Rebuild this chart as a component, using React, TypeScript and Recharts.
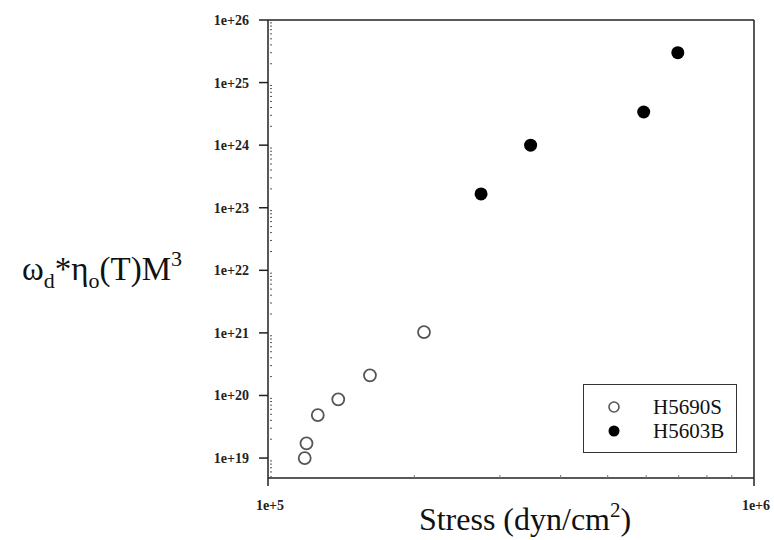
import { ScatterChart, Scatter, XAxis, YAxis, ReferenceLine, Legend } from 'recharts';

// values (stress in dyn/cm^2, y = omega_d * eta_o(T) * M^3)
const hollowStress = [1.19e5, 1.2e5, 1.266e5, 1.395e5, 1.621e5, 2.094e5];
const hollowValue = [1.0e19, 1.72e19, 4.86e19, 8.67e19, 2.1e20, 1.03e21];
const filledStress = [2.744e5, 3.47e5, 5.93e5, 6.97e5];
const filledValue = [1.66e23, 1.0e24, 3.39e24, 3.01e25];

const seriesNames = ['H5690S', 'H5603B'];

const yMajorTicks = [1e19, 1e20, 1e21, 1e22, 1e23, 1e24, 1e25, 1e26];
const yTickLabels = ['1e+19', '1e+20', '1e+21', '1e+22', '1e+23', '1e+24', '1e+25', '1e+26'];
const xMajorTicks = [1e5, 1e6];
const xTickLabels = ['1e+5', '1e+6'];

const Y_MIN = 4.8e18;
const SERIF = 'Liberation Serif, Times New Roman, serif';

const minors = (majors: number[], below: boolean) => {
  const out: number[] = [];
  if (below) [5, 6, 7, 8, 9].forEach((k) => out.push((k * majors[0]) / 10));
  majors.slice(0, -1).forEach((m) => [2, 3, 4, 5, 6, 7, 8, 9].forEach((k) => out.push(k * m)));
  return out;
};
const yTicks = [...yMajorTicks, ...minors(yMajorTicks, true)];
const xTicks = [...xMajorTicks, ...minors(xMajorTicks, false)];

const hollowData = hollowStress.map((x, i) => ({ x, y: hollowValue[i] }));
const filledData = filledStress.map((x, i) => ({ x, y: filledValue[i] }));

const YTick = ({ x, y, payload }: any) => {
  const i = yMajorTicks.indexOf(payload.value);
  if (i < 0) return <line x1={x + 2} x2={x + 4} y1={y} y2={y} stroke="#555" strokeWidth={1} />;
  return (
    <g>
      <line x1={x - 9} x2={x} y1={y} y2={y} stroke="#222" strokeWidth={1.5} />
      <text x={x - 19} y={y} dy={5} textAnchor="end" fontFamily={SERIF} fontSize={14} fontWeight="bold" fill="#222">
        {yTickLabels[i]}
      </text>
    </g>
  );
};

const XTick = ({ x, y, payload }: any) => {
  const i = xMajorTicks.indexOf(payload.value);
  if (i < 0) return <line x1={x} x2={x} y1={y} y2={y - 3} stroke="#777" strokeWidth={1} />;
  return (
    <g>
      <line x1={x} x2={x} y1={y} y2={y + 8} stroke="#222" strokeWidth={1.5} />
      <text x={x + 2} y={y + 32} textAnchor="middle" fontFamily={SERIF} fontSize={14} fontWeight="bold" fill="#222">
        {xTickLabels[i]}
      </text>
    </g>
  );
};

const HollowDot = ({ cx, cy }: any) => <circle cx={cx} cy={cy} r={6} fill="#fff" stroke="#555" strokeWidth={1.8} />;
const FilledDot = ({ cx, cy }: any) => <circle cx={cx} cy={cy} r={6.5} fill="#000" />;

const YTitle = ({ viewBox }: any) => (
  <text x={viewBox.x + 22} y={viewBox.y + 260} fontFamily={SERIF} fontSize={33} fill="#111">
    ω<tspan fontSize={22} dy={8}>d</tspan>
    <tspan dy={-8}>*η</tspan>
    <tspan fontSize={22} dy={8}>o</tspan>
    <tspan dy={-8}>(T)M</tspan>
    <tspan fontSize={22} dy={-14}>3</tspan>
  </text>
);

const XTitle = ({ viewBox }: any) => (
  <text x={viewBox.x + viewBox.width / 2 + 14} y={viewBox.y + 52} textAnchor="middle" fontFamily={SERIF} fontSize={32} fill="#111">
    Stress (dyn/cm<tspan fontSize={21} dy={-13}>2</tspan>
    <tspan dy={13}>)</tspan>
  </text>
);

const LegendBox = ({ payload }: any) => {
  const items = [...(payload || [])].sort(
    (a: any, b: any) => seriesNames.indexOf(a.value) - seriesNames.indexOf(b.value)
  );
  return (
    <svg width={154} height={69} style={{ display: 'block' }}>
      <rect x={0.5} y={0.5} width={153} height={68} fill="#fff" stroke="#333" strokeWidth={1} />
      {items.map((entry: any, i: number) => (
        <g key={entry.value}>
          {entry.value === seriesNames[0] ? (
            <circle cx={31} cy={23 + i * 24} r={5} fill="#fff" stroke="#555" strokeWidth={1.6} />
          ) : (
            <circle cx={31} cy={23 + i * 24} r={5.5} fill="#000" />
          )}
          <text x={70} y={23 + i * 24} dy={7} fontFamily={SERIF} fontSize={21} fill="#111">
            {entry.value}
          </text>
        </g>
      ))}
    </svg>
  );
};

export default function App() {
  return (
    <div style={{ position: 'absolute', left: 0, top: 0, background: '#fff' }}>
      <ScatterChart width={774} height={540} margin={{ top: 20, right: 20, bottom: 0, left: 0 }}>
        <XAxis
          type="number"
          dataKey="x"
          scale="log"
          domain={[1e5, 1e6]}
          allowDataOverflow
          ticks={xTicks}
          interval={0}
          tick={<XTick />}
          tickLine={false}
          tickSize={0}
          tickMargin={0}
          height={62}
          axisLine={{ stroke: '#222', strokeWidth: 1.5 }}
          label={<XTitle />}
        />
        <YAxis
          type="number"
          dataKey="y"
          scale="log"
          domain={[Y_MIN, 1e26]}
          allowDataOverflow
          ticks={yTicks}
          interval={0}
          tick={<YTick />}
          tickLine={false}
          tickSize={0}
          tickMargin={0}
          width={268}
          axisLine={{ stroke: '#222', strokeWidth: 1.5 }}
          label={<YTitle />}
        />
        <ReferenceLine y={1e26} stroke="#222" strokeWidth={1.5} />
        <ReferenceLine x={1e6} stroke="#222" strokeWidth={1.5} />
        <Legend
          layout="horizontal"
          verticalAlign="middle"
          align="center"
          content={<LegendBox />}
          wrapperStyle={{ position: 'absolute', left: 583, top: 384, width: 154, height: 69 }}
        />
        <Scatter name={seriesNames[0]} data={hollowData} fill="#fff" shape={<HollowDot />} isAnimationActive={false} />
        <Scatter name={seriesNames[1]} data={filledData} fill="#000" shape={<FilledDot />} isAnimationActive={false} />
      </ScatterChart>
    </div>
  );
}
